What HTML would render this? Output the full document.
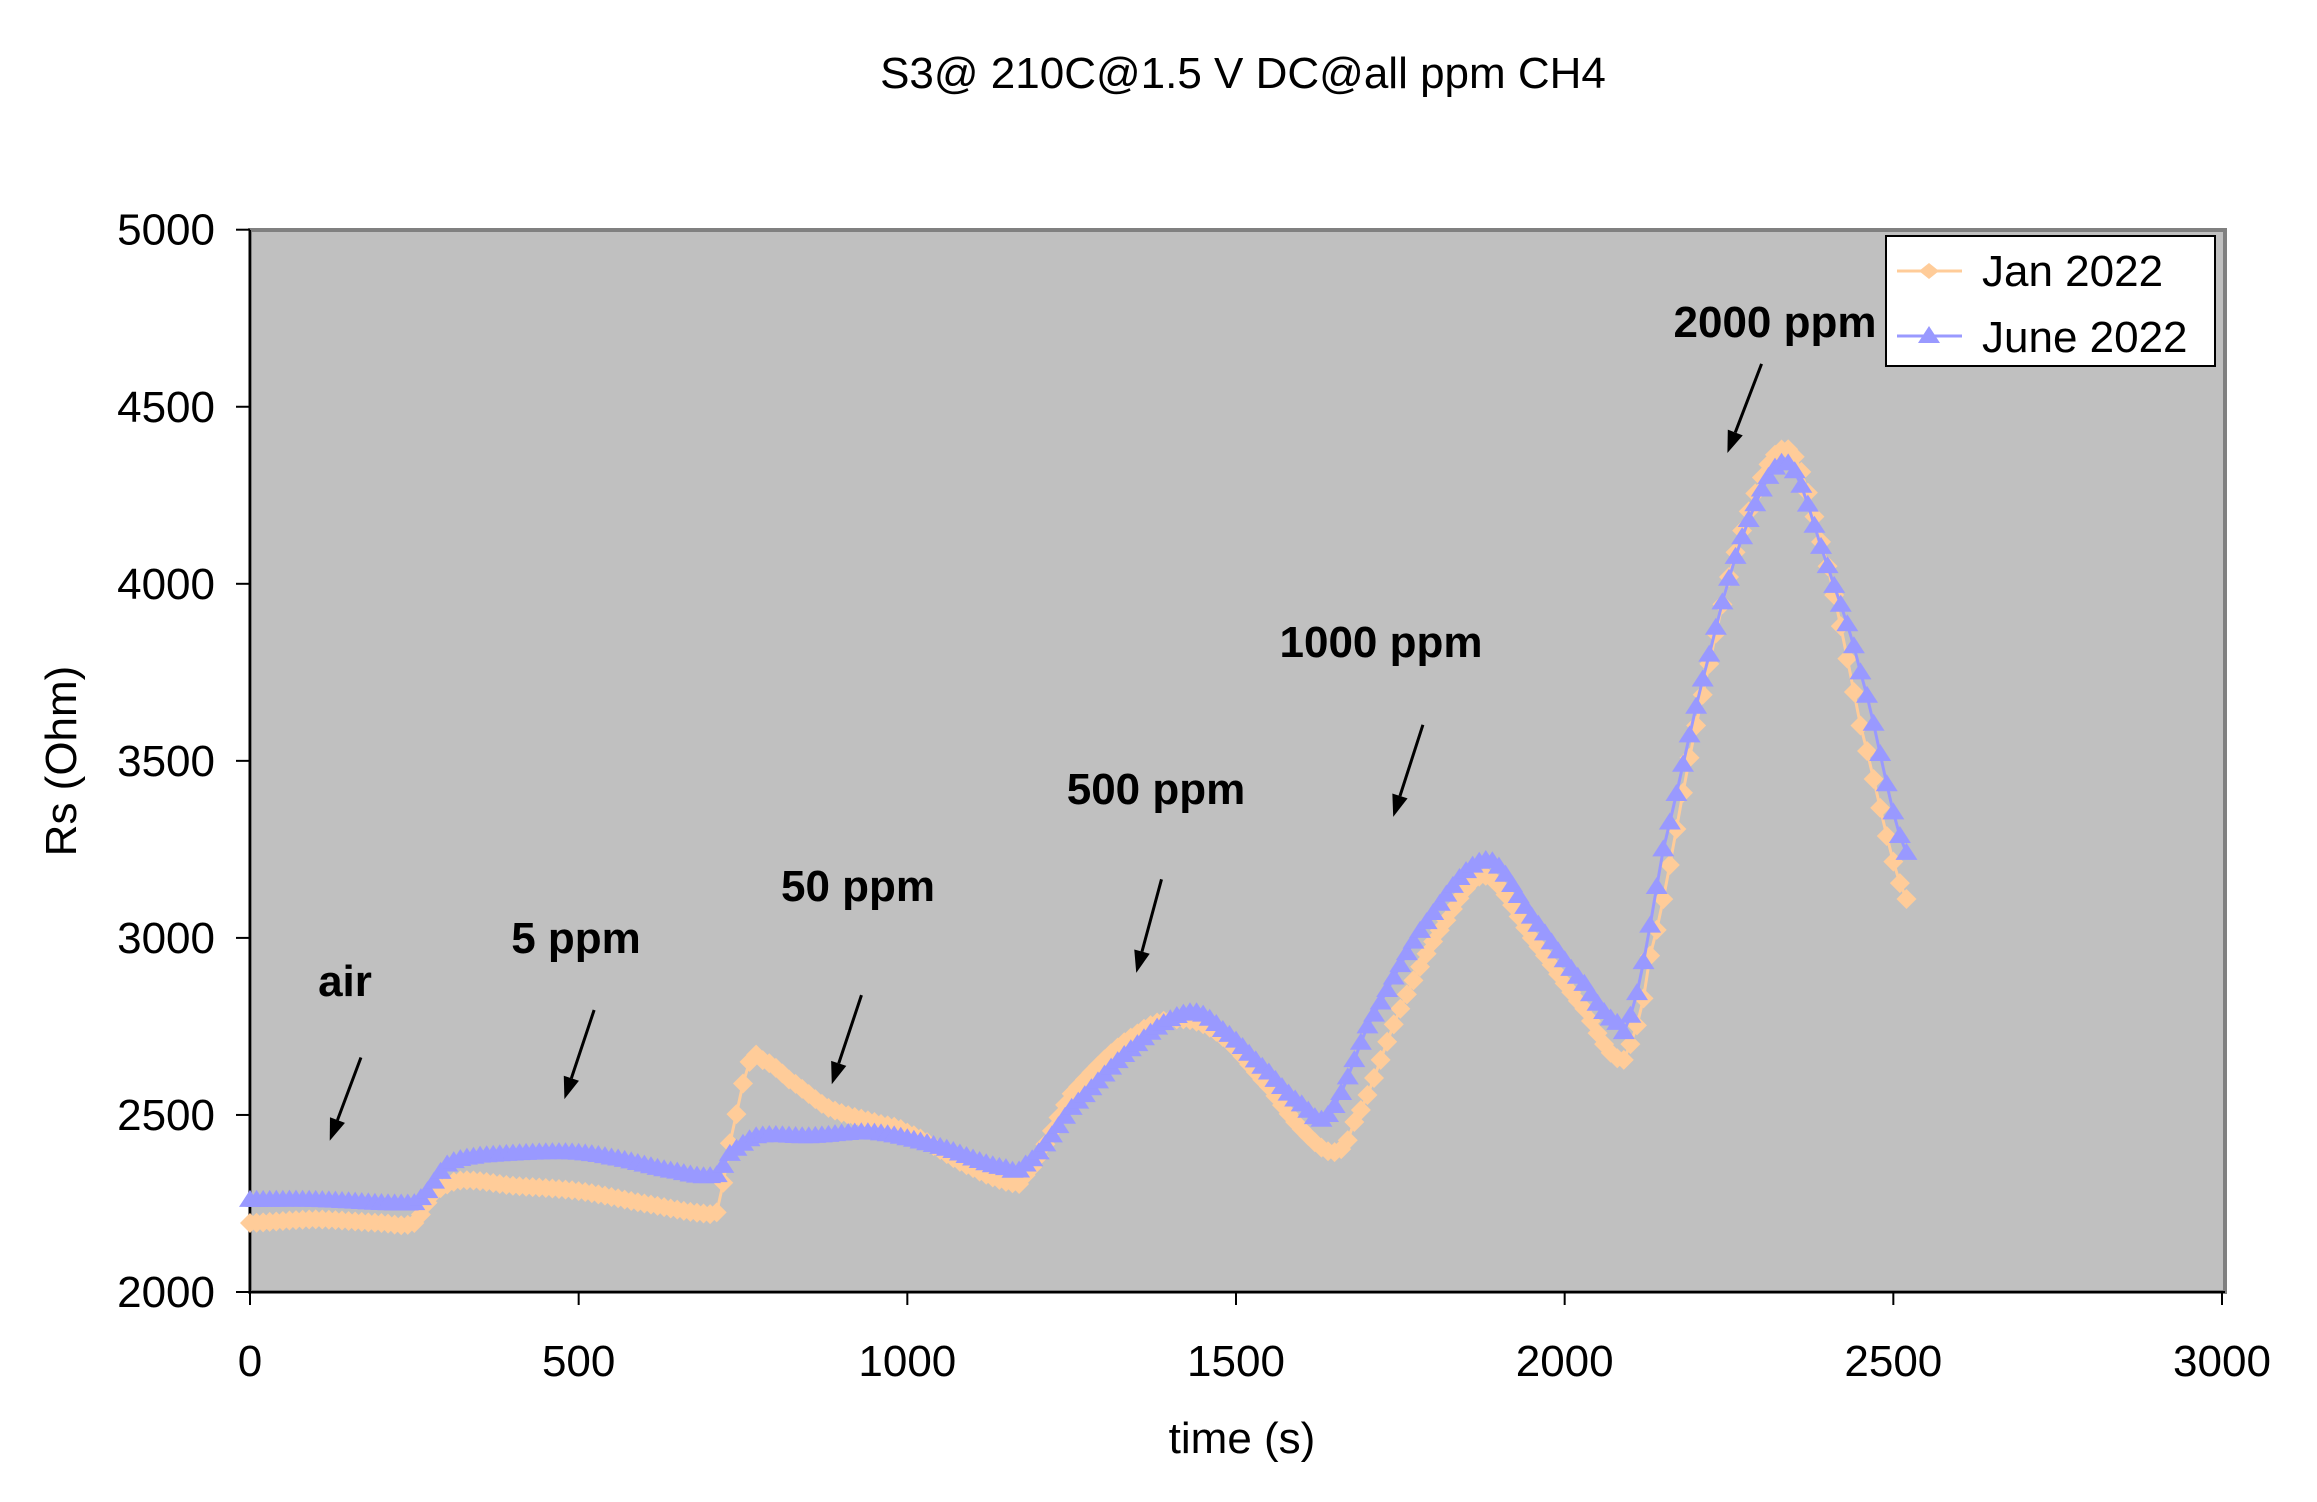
<!DOCTYPE html>
<html><head><meta charset="utf-8"><style>
html,body{margin:0;padding:0;background:#fff;}
svg{display:block;font-family:"Liberation Sans",Arial,sans-serif;}
</style></head><body>
<svg id="s" width="2317" height="1502" viewBox="0 0 2317 1502" xmlns="http://www.w3.org/2000/svg">
<rect x="0" y="0" width="2317" height="1502" fill="#fff"/>
<text x="1243" y="88" font-size="44" text-anchor="middle">S3@ 210C@1.5 V DC@all ppm CH4</text>
<rect x="250" y="230" width="1975" height="1062" fill="#C0C0C0" stroke="#808080" stroke-width="4"/>
<line x1="250" y1="230" x2="250" y2="1292" stroke="#000" stroke-width="2"/>
<line x1="250" y1="1292" x2="2225" y2="1292" stroke="#000" stroke-width="2"/>
<g id="ticks" stroke="#000" stroke-width="2"></g>
<g id="labels" font-size="44"></g>
<g id="series"></g>
<g font-size="44" font-weight="bold" text-anchor="middle">
<text x="345" y="996">air</text>
<text x="576" y="953">5 ppm</text>
<text x="858" y="901">50 ppm</text>
<text x="1156" y="804">500 ppm</text>
<text x="1381" y="657">1000 ppm</text>
<text x="1775" y="337">2000 ppm</text>
</g>
<g id="arrows"></g>
<rect x="1886" y="236" width="329" height="130" fill="#fff" stroke="#000" stroke-width="2"/>
<line x1="1897" y1="271" x2="1962" y2="271" stroke="#FFCC99" stroke-width="3"/>
<polygon points="1929,263 1939,271 1929,279 1919,271" fill="#FFCC99"/>
<text x="1982" y="286" font-size="44">Jan 2022</text>
<line x1="1897" y1="336" x2="1962" y2="336" stroke="#9999FF" stroke-width="3"/>
<polygon points="1929,326 1940,343 1918,343" fill="#9999FF"/>
<text x="1982" y="352" font-size="44">June 2022</text>
<text transform="translate(76,761) rotate(-90)" font-size="44" text-anchor="middle">Rs (Ohm)</text>
<text x="1242" y="1453" font-size="44" text-anchor="middle">time (s)</text>
</svg>
<script>
var NS="http://www.w3.org/2000/svg";
function X(t){return 250+t*(1972/3000);}
function Y(r){return 1292-(r-2000)*0.3541;}
function el(p,n,a){var e=document.createElementNS(NS,n);for(var k in a)e.setAttribute(k,a[k]);p.appendChild(e);return e;}
var tk=document.getElementById('ticks'),lb=document.getElementById('labels');
for(var v=2000;v<=5000;v+=500){var y=Y(v);el(tk,'line',{x1:236,y1:y,x2:250,y2:y});var t=el(lb,'text',{x:215,y:y+15,'text-anchor':'end'});t.textContent=v;}
for(var v=0;v<=3000;v+=500){var x=X(v);el(tk,'line',{x1:x,y1:1292,x2:x,y2:1305});var t=el(lb,'text',{x:x,y:1376,'text-anchor':'middle'});t.textContent=v;}
var jan=[[0,2195],[100,2205],[200,2195],[250,2195],[280,2280],[320,2315],[400,2300],[500,2285],[600,2250],[700,2220],[710,2225],[730,2420],[760,2650],[780,2655],[820,2600],[880,2520],[950,2480],[1000,2450],[1100,2350],[1170,2305],[1180,2330],[1250,2560],[1350,2730],[1420,2770],[1480,2720],[1550,2580],[1600,2460],[1650,2395],[1680,2480],[1750,2800],[1820,3050],[1880,3175],[1950,3000],[2030,2800],[2080,2660],[2100,2700],[2130,2950],[2200,3600],[2270,4150],[2340,4380],[2400,4050],[2450,3600],[2520,3110]];
var jun=[[0,2260],[100,2260],[240,2250],[260,2265],[300,2360],[350,2385],[480,2395],[550,2380],[650,2340],[710,2330],[730,2390],[770,2440],[850,2440],[950,2450],[1050,2410],[1150,2350],[1180,2360],[1250,2520],[1350,2700],[1430,2790],[1480,2740],[1550,2620],[1600,2530],[1640,2500],[1700,2750],[1780,3020],[1880,3220],[1950,3060],[2030,2870],[2080,2760],[2100,2780],[2150,3250],[2220,3800],[2280,4180],[2340,4340],[2400,4050],[2450,3750],[2520,3240]];
function interp(d,t){for(var i=0;i<d.length-1;i++){if(t>=d[i][0]&&t<=d[i+1][0]){var p0=d[Math.max(0,i-1)],p1=d[i],p2=d[i+1],p3=d[Math.min(d.length-1,i+2)];var u=(t-p1[0])/(p2[0]-p1[0]);var m1=(p2[1]-p0[1])/2,m2=(p3[1]-p1[1])/2;var u2=u*u,u3=u2*u;return (2*u3-3*u2+1)*p1[1]+(u3-2*u2+u)*m1+(-2*u3+3*u2)*p2[1]+(u3-u2)*m2;}}return d[d.length-1][1];}
var g=document.getElementById('series');
function draw(d,col,tri){var pts=[];for(var t=0;t<=2520;t+=10){pts.push([X(t),Y(interp(d,t))]);}
el(g,'polyline',{points:pts.map(function(p){return p[0].toFixed(1)+','+p[1].toFixed(1)}).join(' '),fill:'none',stroke:col,'stroke-width':3});
pts.forEach(function(p){var x=p[0],y=p[1];if(tri)el(g,'polygon',{points:(x)+','+(y-10)+' '+(x+11)+','+(y+7)+' '+(x-11)+','+(y+7),fill:col});else el(g,'polygon',{points:x+','+(y-10)+' '+(x+10)+','+y+' '+x+','+(y+10)+' '+(x-10)+','+y,fill:col});});}
draw(jan,'#FFCC99',false);draw(jun,'#9999FF',true);
var ar=document.getElementById('arrows');
var A=[[243,712,222,768],[400,680,380,740],[580,670,560,730],[782,592,765,655],[958,488,938,550],[1186,245,1163,305]];
A.forEach(function(a){var s=1.4853;var x1=a[0]*s,y1=a[1]*s,x2=a[2]*s,y2=a[3]*s;var dx=x2-x1,dy=y2-y1,L=Math.sqrt(dx*dx+dy*dy);var ux=dx/L,uy=dy/L;var bx=x2-ux*22,by=y2-uy*22;
el(ar,'line',{x1:x1,y1:y1,x2:bx,y2:by,stroke:'#000','stroke-width':3});
el(ar,'polygon',{points:x2+','+y2+' '+(bx-uy*8)+','+(by+ux*8)+' '+(bx+uy*8)+','+(by-ux*8),fill:'#000'});});
</script>
</body></html>
